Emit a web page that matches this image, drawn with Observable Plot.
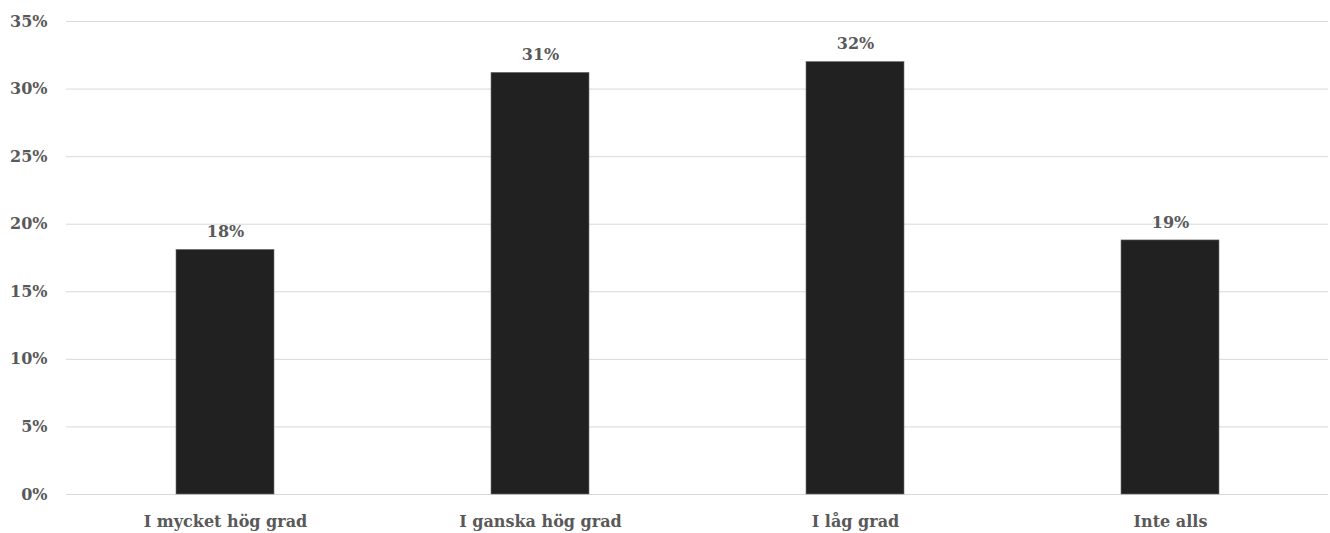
<!DOCTYPE html>
<html>
<head>
<meta charset="utf-8">
<script src="https://cdn.jsdelivr.net/npm/d3@7"></script>
<script src="https://cdn.jsdelivr.net/npm/@observablehq/plot@0.6"></script>
<style>
  html, body { margin: 0; padding: 0; background: #fff; }
  #chart svg { display: block; }
</style>
</head>
<body>
<div id="chart"></div>
<script>
const categories = ["I mycket hög grad", "I ganska hög grad", "I låg grad", "Inte alls"];
const shares = [0.181, 0.312, 0.320, 0.188];
const valueLabels = ["18%", "31%", "32%", "19%"];
const yTicks = [0, 0.05, 0.10, 0.15, 0.20, 0.25, 0.30, 0.35];

const data = categories.map((c, i) => ({category: c, share: shares[i], label: valueLabels[i]}));

const FONT = "'DejaVu Serif', serif";
const TEXT = "#595959";

const chart = Plot.plot({
  width: 1330,
  height: 533,
  marginLeft: 66,
  marginRight: 2,
  marginTop: 21,
  marginBottom: 39,
  style: {fontFamily: FONT, background: "#fff", color: TEXT},
  x: {domain: categories, paddingInner: 0.69, paddingOuter: 0.345, label: null},
  y: {domain: [0, 0.35], label: null},
  marks: [
    Plot.ruleY(yTicks, {stroke: "#d9d9d9", strokeWidth: 1}),
    Plot.barY(data, {x: "category", y: "share", fill: "#212121", stroke: "#6e6e6e", strokeWidth: 0.6}),
    Plot.text(data, {x: "category", y: "share", text: "label", dy: -18, fill: TEXT, fontSize: 16, fontWeight: "bold", fontFamily: FONT}),
    Plot.axisY({ticks: yTicks, tickFormat: d => Math.round(d * 100) + "%", tickSize: 0, tickPadding: 19, fontSize: 16, fontWeight: "bold", fill: TEXT, fontFamily: FONT}),
    Plot.axisX({tickSize: 0, tickPadding: 21, fontSize: 16, fontWeight: "bold", fill: TEXT, fontFamily: FONT})
  ]
});
document.getElementById("chart").appendChild(chart);
</script>
</body>
</html>
